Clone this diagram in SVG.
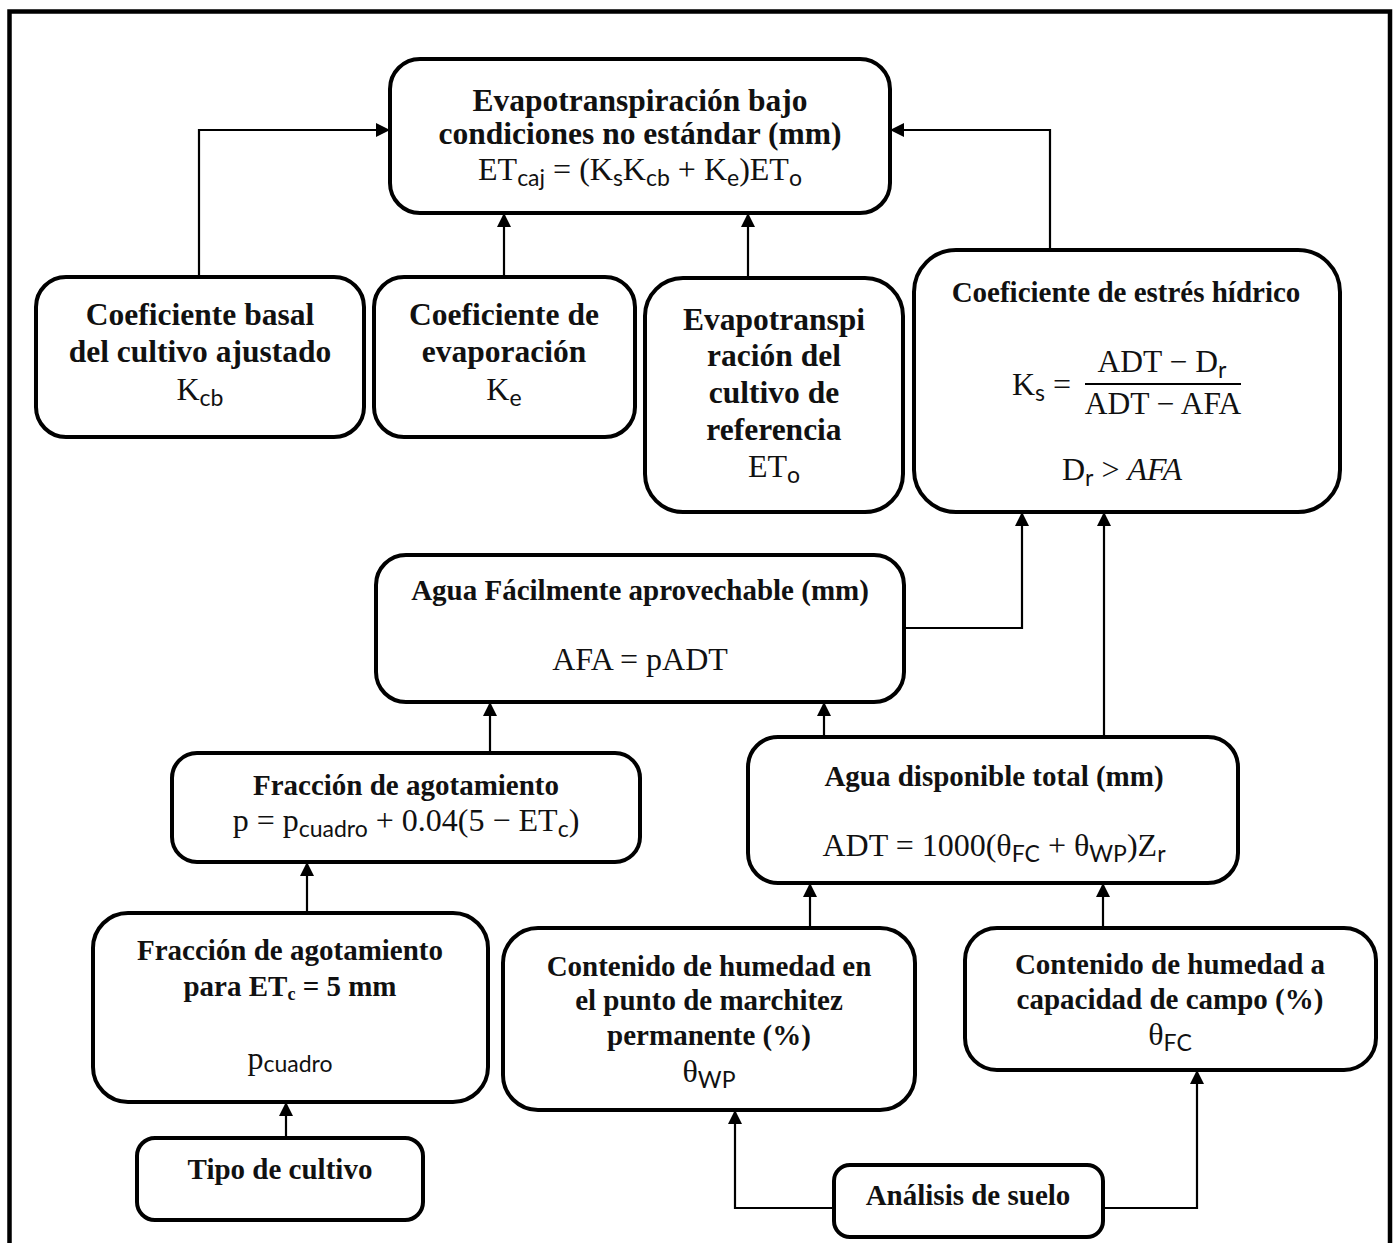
<svg xmlns="http://www.w3.org/2000/svg" width="1396" height="1243" viewBox="0 0 1396 1243">
<style>
.box{fill:#fff;stroke:#000;stroke-width:4}
.lbl{font-family:"Liberation Serif","Times New Roman",serif;font-weight:bold;font-size:29px;text-anchor:middle;fill:#111}
.big{font-size:31.5px}
.math{font-family:"Liberation Serif","Times New Roman",serif;font-size:32px;text-anchor:middle;fill:#111}
.frac{font-size:31.5px}
.sub{font-family:Lato,"Liberation Sans",sans-serif;font-size:23px;font-weight:normal}
.conn{fill:none;stroke:#000;stroke-width:2.2;marker-end:url(#arr)}
</style>
<defs>
<marker id="arr" markerUnits="userSpaceOnUse" markerWidth="14" markerHeight="14" refX="14" refY="7" orient="auto">
<path d="M0,0 L14,7 L0,14 z" fill="#000"/>
</marker>
</defs>
<rect x="9.5" y="11.5" width="1380.5" height="1260" fill="#fff" stroke="#000" stroke-width="4.5"/>

<g id="connectors">
<path class="conn" d="M199,277 V130 H390"/>
<path class="conn" d="M504,277 V213"/>
<path class="conn" d="M748,278 V213"/>
<path class="conn" d="M1050,250 V130 H890"/>
<path class="conn" d="M904,628 H1022 V512"/>
<path class="conn" d="M1104,737 V512"/>
<path class="conn" d="M490,753 V702"/>
<path class="conn" d="M824,737 V702"/>
<path class="conn" d="M307,913 V862"/>
<path class="conn" d="M810,928 V883"/>
<path class="conn" d="M1103,928 V883"/>
<path class="conn" d="M286,1138 V1102"/>
<path class="conn" d="M834,1208 H735 V1110"/>
<path class="conn" d="M1103,1208 H1197 V1070"/>
</g>

<g id="n-etcaj">
<rect class="box" x="390" y="59" width="500" height="154" rx="30"/>
<text class="lbl big" x="640" y="111">Evapotranspiración bajo</text>
<text class="lbl big" x="640" y="144">condiciones no estándar (mm)</text>
<text class="math" x="640" y="180">ET<tspan class="sub" dy="6">caj</tspan><tspan dy="-6"> = (K</tspan><tspan class="sub" dy="6">s</tspan><tspan dy="-6">K</tspan><tspan class="sub" dy="6">cb</tspan><tspan dy="-6"> + K</tspan><tspan class="sub" dy="6">e</tspan><tspan dy="-6">)ET</tspan><tspan class="sub" dy="6">o</tspan></text>
</g>

<g id="n-kcb">
<rect class="box" x="36" y="277" width="328" height="160" rx="30"/>
<text class="lbl big" x="200" y="325">Coeficiente basal</text>
<text class="lbl big" x="200" y="362">del cultivo ajustado</text>
<text class="math" x="200" y="400">K<tspan class="sub" dy="6">cb</tspan></text>
</g>

<g id="n-ke">
<rect class="box" x="374" y="277" width="261" height="160" rx="30"/>
<text class="lbl big" x="504" y="325">Coeficiente de</text>
<text class="lbl big" x="504" y="362">evaporación</text>
<text class="math" x="504" y="400">K<tspan class="sub" dy="6">e</tspan></text>
</g>

<g id="n-eto">
<rect class="box" x="645" y="278" width="258" height="234" rx="38"/>
<text class="lbl big" x="774" y="330">Evapotranspi</text>
<text class="lbl big" x="774" y="366">ración del</text>
<text class="lbl big" x="774" y="403">cultivo de</text>
<text class="lbl big" x="774" y="440">referencia</text>
<text class="math" x="774" y="477">ET<tspan class="sub" dy="6">o</tspan></text>
</g>

<g id="n-ks">
<rect class="box" x="914" y="250" width="426" height="262" rx="42"/>
<text class="lbl" x="1126" y="302">Coeficiente de estrés hídrico</text>
<text class="math" x="1012" y="395" style="text-anchor:start">K<tspan class="sub" dy="6">s</tspan><tspan dy="-6"> =</tspan></text>
<text class="math frac" x="1162" y="372">ADT − D<tspan class="sub" dy="6">r</tspan></text>
<line x1="1085" y1="384" x2="1241" y2="384" stroke="#000" stroke-width="2"/>
<text class="math frac" x="1163" y="414">ADT − AFA</text>
<text class="math" x="1122" y="480">D<tspan class="sub" dy="6">r</tspan><tspan dy="-6"> &gt; </tspan><tspan font-style="italic">AFA</tspan></text>
</g>

<g id="n-afa">
<rect class="box" x="376" y="555" width="528" height="147" rx="30"/>
<text class="lbl" x="640" y="600">Agua Fácilmente aprovechable (mm)</text>
<text class="math" x="640" y="670">AFA = pADT</text>
</g>

<g id="n-p">
<rect class="box" x="172" y="753" width="468" height="109" rx="25"/>
<text class="lbl" x="406" y="795">Fracción de agotamiento</text>
<text class="math" x="406" y="831">p = p<tspan class="sub" dy="6">cuadro</tspan><tspan dy="-6"> + 0.04(5 − ET</tspan><tspan class="sub" dy="6">c</tspan><tspan dy="-6">)</tspan></text>
</g>

<g id="n-adt">
<rect class="box" x="748" y="737" width="490" height="146" rx="30"/>
<text class="lbl" x="994" y="786">Agua disponible total (mm)</text>
<text class="math" x="994" y="856">ADT = 1000(θ<tspan class="sub" dy="6">FC</tspan><tspan dy="-6"> + θ</tspan><tspan class="sub" dy="6">WP</tspan><tspan dy="-6">)Z</tspan><tspan class="sub" dy="6">r</tspan></text>
</g>

<g id="n-pcuadro">
<rect class="box" x="93" y="913" width="395" height="189" rx="35"/>
<text class="lbl" x="290" y="960">Fracción de agotamiento</text>
<text class="lbl" x="290" y="996">para ET<tspan font-size="18" dy="4">c</tspan><tspan dy="-4"> = 5 mm</tspan></text>
<text class="math" x="290" y="1069">p<tspan class="sub" dy="3">cuadro</tspan></text>
</g>

<g id="n-twp">
<rect class="box" x="503" y="928" width="412" height="182" rx="35"/>
<text class="lbl" x="709" y="976">Contenido de humedad en</text>
<text class="lbl" x="709" y="1010">el punto de marchitez</text>
<text class="lbl" x="709" y="1045">permanente (%)</text>
<text class="math" x="709" y="1082">θ<tspan class="sub" dy="6">WP</tspan></text>
</g>

<g id="n-tfc">
<rect class="box" x="965" y="928" width="411" height="142" rx="32"/>
<text class="lbl" x="1170" y="974">Contenido de humedad a</text>
<text class="lbl" x="1170" y="1009">capacidad de campo (%)</text>
<text class="math" x="1170" y="1045">θ<tspan class="sub" dy="6">FC</tspan></text>
</g>

<g id="n-tipo">
<rect class="box" x="137" y="1138" width="286" height="82" rx="18"/>
<text class="lbl" x="280" y="1179">Tipo de cultivo</text>
</g>

<g id="n-suelo">
<rect class="box" x="834" y="1165" width="269" height="72" rx="16"/>
<text class="lbl" x="968" y="1205">Análisis de suelo</text>
</g>
</svg>
